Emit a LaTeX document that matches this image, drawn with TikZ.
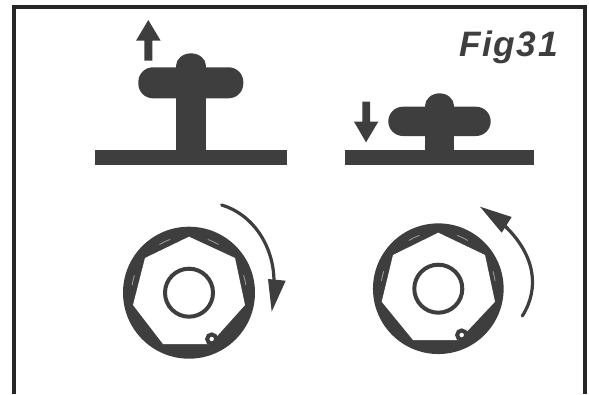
\documentclass[tikz,border=0pt]{standalone}
\usepackage{fontspec}
\setmainfont{Liberation Sans}
\definecolor{ink}{HTML}{3E3E3E}
\tikzset{
  solid part/.style={fill=ink,draw=none},
  hub ring/.style={draw=ink,line width=3pt,fill=white},
  dimple/.style={draw=ink,line width=3pt,fill=white},
  curve arrow/.style={draw=ink,line width=2.4pt,line cap=round},
  slit/.style={draw=white!45!ink,line width=.7pt},
  frame line/.style={draw=black!85,line width=3pt}
}
\begin{document}
\begin{tikzpicture}[x=0.75pt,y=-0.75pt]
\useasboundingbox (0,0) rectangle (589,394);
% frame
\coordinate (fa) at (13.5,394);
\coordinate (fb) at (13.5,6.5);
\coordinate (fc) at (584.5,6.5);
\coordinate (fd) at (584.5,394);
\draw[frame line] (fa) -- (fb) -- (fc) -- (fd);
% left knob
\fill[solid part] (95,149.5) rectangle (287.3,165);
\fill[solid part] (176,66) rectangle (206,152);
\fill[solid part,rounded corners=11pt] (138.3,67.3) rectangle (243.3,98.3);
\fill[solid part] (176,66) arc[start angle=180,end angle=0,x radius=11.25pt,y radius=9.5pt] -- cycle;
% right knob
\fill[solid part] (345,149.5) rectangle (534,165);
\fill[solid part] (425,106) rectangle (454,152);
\fill[solid part,rounded corners=11pt] (388.3,106.7) rectangle (490.7,136);
\fill[solid part] (425,106) arc[start angle=180,end angle=0,x radius=10.9pt,y radius=9.5pt] -- cycle;
% straight arrows
\fill[solid part] (144.3,60.7) -- (144.3,40.7) -- (136,40.7) -- (148.3,20) -- (160.7,40.7) -- (152.3,40.7) -- (152.3,60.7) -- cycle;
\fill[solid part] (362.3,101.7) -- (362.3,121.7) -- (354,121.7) -- (366,142.3) -- (378.3,121.7) -- (370,121.7) -- (370,101.7) -- cycle;
% left wheel
\coordinate (lc) at (189,292.7);
\fill[solid part] (lc) circle[radius=49.5pt];
\foreach \a/\r/\s in {64.5/42.4/6,115.5/42.4/6,12.7/43/5,167.3/43/5}
  \draw[slit] ([shift={(\a-\s:\r pt)}]lc) arc[start angle=\a-\s,end angle=\a+\s,radius=\r pt];
\fill[white] (189,236.7) -- (235,258) -- (245,305) -- (210,344) -- (163,344) -- (133,305) -- (145,258) -- cycle;
\draw[hub ring] (lc) circle[radius=18pt];
\draw[dimple] (211.7,339) circle[radius=3.4pt];
% right wheel
\coordinate (rc) at (438.3,288.7);
\fill[solid part] (rc) circle[radius=49pt];
\foreach \a/\r/\s in {64.5/42.4/6,115.5/42.4/6,12.7/43/5,167.3/43/5}
  \draw[slit] ([shift={(\a-\s:\r pt)}]rc) arc[start angle=\a-\s,end angle=\a+\s,radius=\r pt];
\fill[white] (438.3,232.7) -- (485,255) -- (495,301.7) -- (459,340) -- (413,340) -- (381.7,301.7) -- (393,255) -- cycle;
\draw[hub ring] (rc) circle[radius=18pt];
\draw[dimple] (461.7,335) circle[radius=3.4pt];
% curved arrows
\coordinate (la) at (221.7,205);
\coordinate (lb) at (274,282);
\draw[curve arrow] (la) .. controls (252,214) and (274,245) .. (lb);
\fill[solid part] (268,279) -- (285.7,280.7) -- (271.7,311.7) -- cycle;
\coordinate (ra) at (522.3,316);
\coordinate (rb) at (505,226);
\draw[curve arrow] (ra) .. controls (540,288) and (535,255) .. (rb);
\fill[solid part] (480,206.7) -- (511.7,217) -- (501.7,232.7) -- cycle;
% label
\node[font=\bfseries\itshape\fontsize{26.5}{28}\selectfont,text=ink,inner sep=0pt,anchor=base east] (lab) at (558,56.7) {\addfontfeatures{LetterSpace=4.5}Fig31};
\end{tikzpicture}
\end{document}
